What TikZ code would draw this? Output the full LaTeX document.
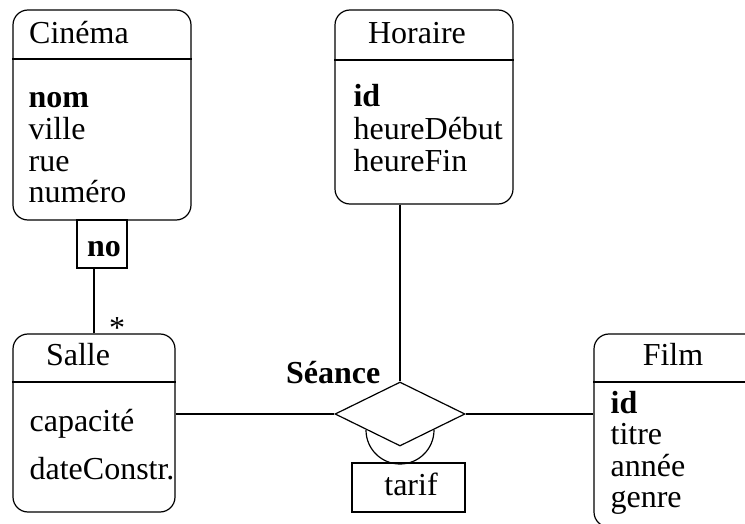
\documentclass[tikz,border=0pt]{standalone}
\usepackage{fontspec}
\setmainfont{Liberation Serif}
\usepackage{tikz}
\usetikzlibrary{shapes.geometric}

\tikzset{
  entity/.style={draw, rounded corners=15pt, inner sep=0pt},
  box/.style={draw, inner sep=0pt},
  txt/.style={inner sep=0pt, anchor=base},
  attr/.style={inner sep=0pt, anchor=base west},
}

\begin{document}
\begin{tikzpicture}[x=1pt, y=-1pt, line width=1.2pt, font=\fontsize{32}{32}\selectfont]
            \clip (0,0) rectangle (745,524);
            % entites
            \node[entity, minimum width=178pt, minimum height=210pt] (cinema) at (102,115) {};
            \node[entity, minimum width=178pt, minimum height=194pt] (horaire) at (424,107) {};
            \node[entity, minimum width=162pt, minimum height=178pt] (salle) at (94,423) {};
            \node[entity, minimum width=196pt, minimum height=193pt] (film) at (692,430.5) {};
            \draw (cinema.west |- 0,59) to (cinema.east |- 0,59);
            \draw (horaire.west |- 0,60) to (horaire.east |- 0,60);
            \draw (salle.west |- 0,382) to (salle.east |- 0,382);
            \draw (film.west |- 0,382) to (film.east |- 0,382);
            % titres
            \node[txt] (tcinema) at (79,44) {Cinéma};
            \node[txt] (thoraire) at (417,44) {Horaire};
            \node[txt] (tsalle) at (78,365) {Salle};
            \node[txt] (tfilm) at (673,365) {Film};
            % attributs
            \node[attr] (c1) at (28,108) {\textbf{nom}};
            \node[attr] (c2) at (28,140) {ville};
            \node[attr] (c3) at (28,172) {rue};
            \node[attr] (c4) at (28,203) {numéro};
            \node[attr] (h1) at (353,107) {\textbf{id}};
            \node[attr] (h2) at (353,140) {heureDébut};
            \node[attr] (h3) at (353,172) {heureFin};
            \node[attr] (s1) at (29,431) {capacité};
            \node[attr] (s2) at (29,479) {dateConstr.};
            \node[attr] (f1) at (610,413) {\textbf{id}};
            \node[attr] (f2) at (610,444) {titre};
            \node[attr] (f3) at (610,476) {année};
            \node[attr] (f4) at (610,507) {genre};
            % qualificatif
            \node[box, minimum width=50pt, minimum height=48pt] (no) at (102,244) {};
            \node[txt] (tno) at (104,256) {\textbf{no}};
            \draw (salle.north) to (salle.north |- no.south);
            \node[txt] (star) at (117,338) {*};
            % association
            \node[draw, diamond, minimum width=130pt, minimum height=64pt, inner sep=0pt] (seance) at (400,414) {};
            \node[txt, anchor=base east] (tseance) at (381,383) {\textbf{Séance}};
            \draw (seance.center) ++(-34,16) arc[start angle=180, end angle=0, radius=34];
            \node[box, minimum width=113pt, minimum height=49pt] (tarif) at (408.5,487.5) {};
            \node[txt] (ttarif) at (411,495) {tarif};
            \draw (horaire.south -| seance.north) to (seance.north);
            \draw (salle.east |- seance.west) to (seance.west);
            \draw (seance.east) to (film.west |- seance.east);
        \end{tikzpicture}
\end{document}
